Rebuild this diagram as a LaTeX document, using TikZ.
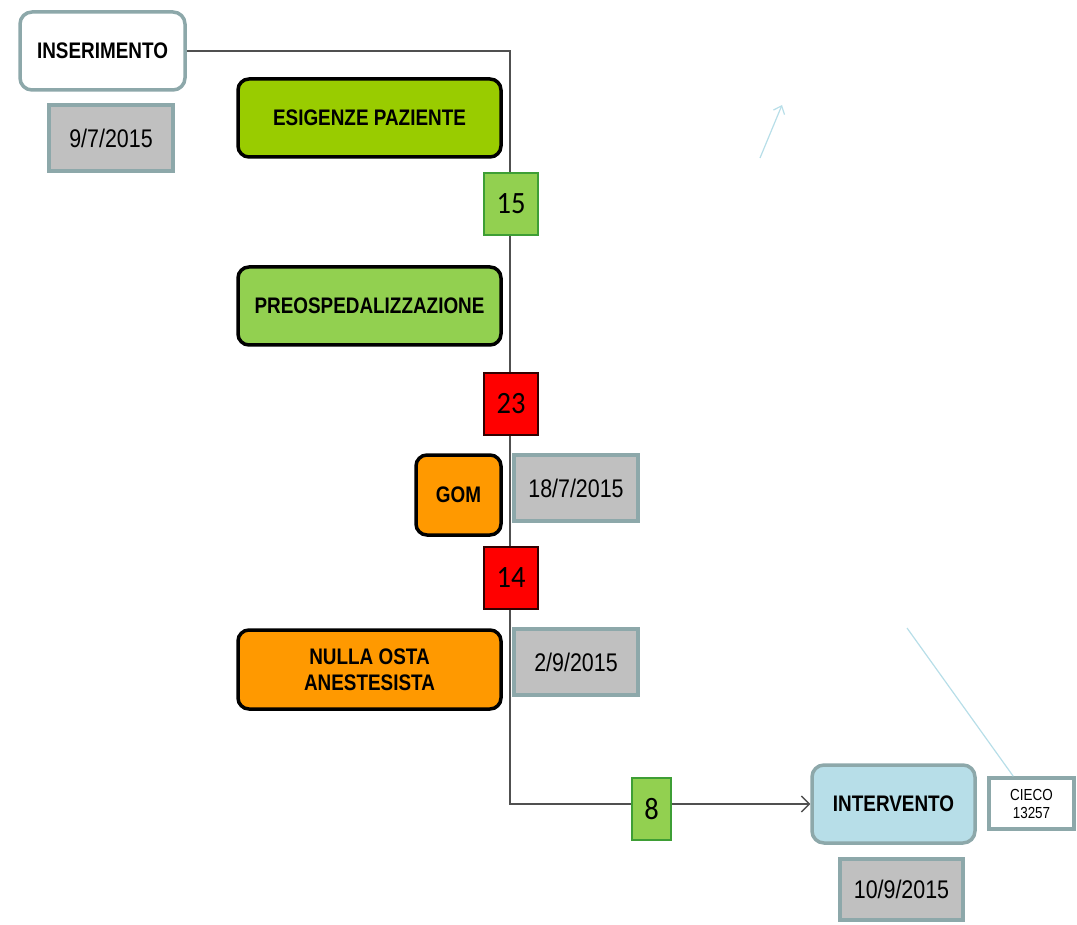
\documentclass[tikz,border=0pt]{standalone}
\usepackage{fontspec}
\setmainfont{Liberation Sans}[FakeStretch=0.84]
\newfontfamily\numfont{Carlito}[FakeStretch=0.92]
\usetikzlibrary{arrows.meta,backgrounds,calc}
\definecolor{tealbd}{HTML}{8DA8AA}
\definecolor{grayfill}{HTML}{C0C0C0}
\definecolor{lime}{HTML}{99CC00}
\definecolor{lgreen}{HTML}{92D050}
\definecolor{gbd}{HTML}{3E9E35}
\definecolor{orng}{HTML}{FF9900}
\definecolor{lblue}{HTML}{B7DEE8}
\definecolor{lineg}{HTML}{505050}
\tikzset{
  x=1pt, y=-1pt,
  lbl/.style={font=\fontsize{22.5}{26}\selectfont\bfseries, align=center, inner sep=0pt},
  phase/.style={lbl, rounded corners=11pt, line width=3.5pt, draw=black, minimum width=263pt, minimum height=78pt},
  datebox/.style={draw=tealbd, line width=3.5pt, fill=grayfill, minimum width=124pt, minimum height=66pt, inner sep=0pt, font=\fontsize{25.5}{28}\selectfont},
  numbox/.style={line width=1.2pt, minimum width=54pt, minimum height=62pt, inner sep=0pt, font=\numfont\fontsize{31}{33}\selectfont},
  greennum/.style={numbox, fill=lgreen, draw=gbd},
  rednum/.style={numbox, fill=red, draw=black!80!red},
  conn/.style={draw=lineg, line width=1.4pt},
  faint/.style={draw=lblue, line width=1.2pt}
}
\begin{document}
\begin{tikzpicture}
\useasboundingbox (0,0) rectangle (1077,925);
\node[lbl, draw=tealbd, fill=white, rounded corners=12pt, line width=3.5pt, minimum width=165pt, minimum height=78pt] (ins) at (102.5,51) {INSERIMENTO};
\node[datebox] (d1) at (111,138) {9/7/2015};
\node[phase, fill=lime] (esig) at (369.5,118) {ESIGENZE PAZIENTE};
\node[greennum] (n15) at (511,204) {15};
\node[phase, fill=lgreen] (preo) at (369.5,306) {PREOSPEDALIZZAZIONE};
\node[rednum] (n23) at (511,404) {23};
\node[phase, fill=orng, minimum width=85pt, minimum height=80pt] (gom) at (458.5,495) {GOM};
\node[datebox] (d2) at (576,488) {18/7/2015};
\node[rednum] (n14) at (511,578) {14};
\node[phase, fill=orng, minimum height=79pt] (nulla) at (369.5,669.5) {NULLA OSTA\\ANESTESISTA};
\node[datebox] (d3) at (576,662) {2/9/2015};
\node[greennum, minimum width=39pt] (n8) at (651.5,809) {8};
\node[lbl, draw=tealbd, fill=lblue, rounded corners=12pt, line width=3.5pt, minimum width=163pt, minimum height=78pt] (intv) at (893.5,804) {INTERVENTO};
\node[draw=tealbd, fill=white, line width=3.5pt, minimum width=85pt, minimum height=51pt, inner sep=0pt, align=center, font=\fontsize{16}{18}\selectfont] (cieco) at (1031.5,803.5) {CIECO\\13257};
\node[datebox, minimum width=123pt, minimum height=61pt] (d4) at (901.5,889.5) {10/9/2015};
\coordinate (turn) at (510,804);
\coordinate (fa) at (907,628);
\coordinate (ga) at (760,158);
\coordinate (gb) at (782,105);
\begin{scope}[on background layer]
\draw[conn, -{Straight Barb[length=8pt,width=16pt,line width=1.4pt]}] (ins.east) -| (turn) -- (intv.west);
\end{scope}
\draw[faint] (fa) -- ($(cieco.north west)+(26,0)$);
\draw[faint, -{Straight Barb[length=7pt,width=12pt]}] (ga) -- (gb);
\end{tikzpicture}
\end{document}
